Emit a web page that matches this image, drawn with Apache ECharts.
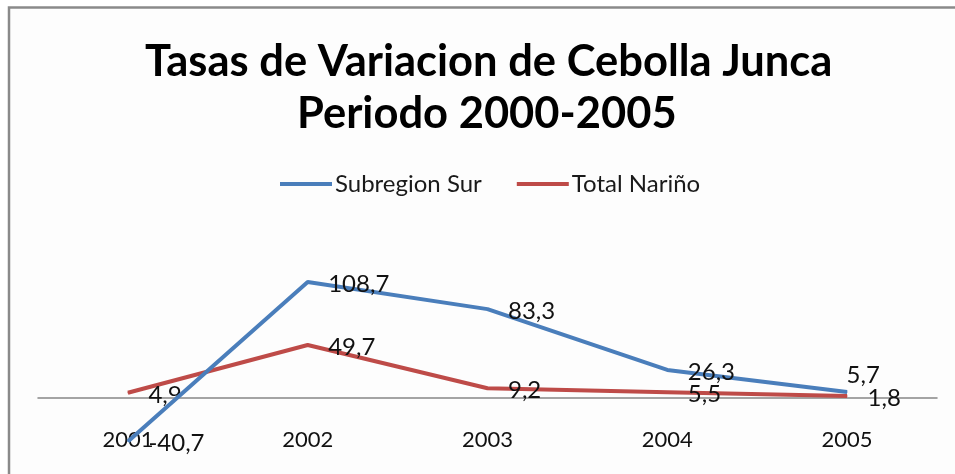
<!DOCTYPE html>
<html>
<head>
<meta charset="utf-8">
<script src="https://cdn.jsdelivr.net/npm/echarts@6/dist/echarts.min.js"></script>
<style>
html,body{margin:0;padding:0;background:#ffffff;}
#chart{width:955px;height:474px;}
</style>
</head>
<body>
<div id="chart"></div>
<script>
var categories = ['2001', '2002', '2003', '2004', '2005'];
var subregionSur = [-40.7, 108.7, 83.3, 26.3, 5.7];
var totalNarino = [4.9, 49.7, 9.2, 5.5, 1.8];
var seriesNames = ['Subregion Sur', 'Total Nariño'];
var titleLines = ['Tasas de Variacion de Cebolla Junca', 'Periodo 2000-2005'];

var FONT = 'Lato';
function fmt(p) { return String(p.value).replace('.', ','); }

function buildData(values, overrides) {
  return values.map(function (v, i) {
    var o = { value: v };
    if (overrides && overrides[i]) o.label = overrides[i];
    return o;
  });
}

var titleStyle = { fontFamily: FONT, fontWeight: 'bold', fontSize: 43.5, lineHeight: 52, color: '#000' };

var chart = echarts.init(document.getElementById('chart'), null, { renderer: 'canvas' });
chart.setOption({
  backgroundColor: '#ffffff',
  animation: false,
  graphic: [{
    type: 'rect',
    shape: { x: 9, y: 7.5, width: 1000, height: 500 },
    style: { fill: '#fdfdfd', stroke: '#8a8a8a', lineWidth: 2.5 },
    z: -10
  }],
  title: [{
    text: titleLines[0],
    left: 145,
    top: 36,
    padding: 0,
    textStyle: titleStyle
  }, {
    text: titleLines[1],
    left: 297,
    top: 88,
    padding: 0,
    textStyle: titleStyle
  }],
  legend: {
    top: 172,
    left: 280,
    padding: 0,
    data: seriesNames,
    icon: 'rect',
    itemWidth: 52,
    itemHeight: 4,
    itemGap: 35,
    textStyle: { fontFamily: FONT, fontSize: 24, color: '#1a1a1a', padding: [0, 0, 0, -2] }
  },
  grid: { left: 38, right: 18, top: 270, bottom: 24, outerBoundsMode: 'none', containLabel: false },
  xAxis: {
    type: 'category',
    data: categories,
    boundaryGap: true,
    axisLine: { onZero: true, lineStyle: { color: '#868686', width: 1.5 } },
    axisTick: { show: false },
    axisLabel: { margin: -21, fontFamily: FONT, fontSize: 22, color: '#111' }
  },
  yAxis: {
    type: 'value',
    min: -48.75, max: 120,
    show: false,
    splitLine: { show: false }
  },
  series: [{
    name: seriesNames[0],
    type: 'line',
    data: buildData(subregionSur, { 4: { offset: [-21, -17] } }),
    symbol: 'circle', symbolSize: 1,
    itemStyle: { color: '#4a7ebb' },
    lineStyle: { color: '#4a7ebb', width: 4 },
    label: { show: true, position: 'right', distance: 20, offset: [0, 2], formatter: fmt,
      fontFamily: FONT, fontSize: 24, color: '#111' },
    z: 3
  }, {
    name: seriesNames[1],
    type: 'line',
    data: buildData(totalNarino),
    symbol: 'circle', symbolSize: 1,
    itemStyle: { color: '#be4b48' },
    lineStyle: { color: '#be4b48', width: 4 },
    label: { show: true, position: 'right', distance: 20, offset: [0, 2], formatter: fmt,
      fontFamily: FONT, fontSize: 24, color: '#111' },
    z: 2
  }]
});
</script>
</body>
</html>
